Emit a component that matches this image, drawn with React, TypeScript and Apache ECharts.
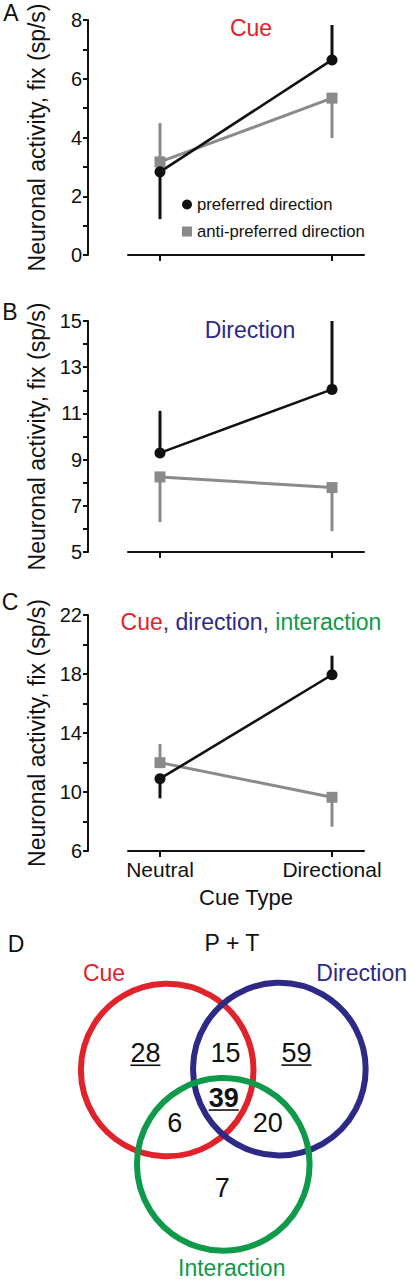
import React, { useEffect, useRef } from "react";
import * as echarts from "echarts";

// ---------- data ----------
const categories = ["Neutral", "Directional"];
const catPos = [0, 1];

const prefA = [2.83, 6.64];
const prefAErr = [1.22, 7.83];
const antiA = [3.17, 5.34];
const antiAErr = [4.49, 3.98];

const prefB = [9.29, 12.04];
const prefBErr = [11.11, 15.0];
const antiB = [8.25, 7.79];
const antiBErr = [6.3, 5.9];

const prefC = [10.9, 17.95];
const prefCErr = [9.57, 19.24];
const antiC = [11.99, 9.64];
const antiCErr = [13.25, 7.65];

const yLabelsA = [0, 2, 4, 6, 8];
const yLabelsB = [5, 7, 9, 11, 13, 15];
const yLabelsC = [6, 10, 14, 18, 22];

const vennSets = ["Cue", "Direction", "Interaction"];
const vennCounts = [28, 15, 59, 39, 6, 20, 7];
const vennUnderlined = [true, false, true, true, false, false, false];
const vennBold = [false, false, false, true, false, false, false];

// ---------- layout (venn units) ----------
const vennCenterX = [0, 1.26, 0.63];
const vennCenterY = [0, 0.01, -1.06];
const vennRadius = 0.97;
const vennLabelX = [-0.71, 2.185, 0.725];
const vennLabelY = [1.09, 1.09, -2.225];
const countX = [-0.245, 0.654, 1.452, 0.635, 0.084, 1.129, 0.62];
const countY = [0.188, 0.19, 0.19, -0.315, -0.596, -0.596, -1.326];

const FONT = '"Liberation Sans", Arial, Helvetica, sans-serif';
const BLACK = "#111111";
const GRAY = "#8a8a8a";
const RED = "#e0222a";
const BLUE = "#2c2a86";
const GREEN = "#0e9a48";
const vennColors = [RED, BLUE, GREEN];

const PREF = "preferred direction";
const ANTI = "anti-preferred direction";

export default function App() {
  const ref = useRef<HTMLDivElement>(null);

  useEffect(() => {
    if (!ref.current) return;
    const chart = echarts.init(ref.current, undefined, { renderer: "svg" });

    const panels = [
      { top: 20, height: 235, min: 0, max: 8, interval: 1, labels: yLabelsA, pref: prefA, prefErr: prefAErr, anti: antiA, antiErr: antiAErr, showX: false },
      { top: 321, height: 231, min: 5, max: 15, interval: 1, labels: yLabelsB, pref: prefB, prefErr: prefBErr, anti: antiB, antiErr: antiBErr, showX: false },
      { top: 615, height: 236, min: 6, max: 22, interval: 2, labels: yLabelsC, pref: prefC, prefErr: prefCErr, anti: antiC, antiErr: antiCErr, showX: true },
    ];

    const grids: any[] = panels.map((p) => ({ left: 128, right: 43, top: p.top, height: p.height }));
    grids.push({ left: 7, top: 892, width: 391.6, height: 382.7 });

    const xAxes: any[] = panels.map((p, i) => ({
      gridIndex: i,
      type: "value",
      min: -0.186,
      max: 1.186,
      axisLine: { show: true, onZero: false, lineStyle: { color: BLACK, width: 2 } },
      axisTick: { show: true, customValues: catPos, length: 6, lineStyle: { color: BLACK, width: 2 } },
      axisLabel: {
        show: p.showX,
        customValues: catPos,
        formatter: (v: number) => categories[Math.round(v)] ?? "",
        fontSize: 21,
        color: BLACK,
        fontFamily: FONT,
        margin: 8,
      },
      splitLine: { show: false },
      name: p.showX ? "Cue Type" : "",
      nameLocation: "middle",
      nameGap: 35,
      nameTextStyle: { fontSize: 22, color: BLACK, fontFamily: FONT },
    }));
    xAxes.push({ gridIndex: 3, type: "value", min: -1.8, max: 2.6, show: false });

    const yAxes: any[] = panels.map((p, i) => ({
      gridIndex: i,
      type: "value",
      position: "left",
      min: p.min,
      max: p.max,
      interval: p.interval,
      offset: 40,
      axisLine: { show: true, onZero: false, lineStyle: { color: BLACK, width: 2 } },
      axisTick: { show: true, length: 5, lineStyle: { color: BLACK, width: 2 } },
      axisLabel: {
        formatter: (v: number) => (p.labels.includes(v) ? String(v) : ""),
        fontSize: 20,
        color: BLACK,
        fontFamily: FONT,
        margin: 6,
      },
      splitLine: { show: false },
      name: "Neuronal activity, fix (sp/s)",
      nameLocation: "middle",
      nameGap: 40,
      nameTextStyle: { fontSize: 23, color: BLACK, fontFamily: FONT },
    }));
    yAxes.push({ gridIndex: 3, type: "value", min: -2.3, max: 2.0, show: false });

    const errSeries = (i: number, means: number[], ends: number[], color: string) => ({
      type: "custom",
      xAxisIndex: i,
      yAxisIndex: i,
      z: 1,
      silent: true,
      data: catPos.map((x, k) => [x, means[k], ends[k]]),
      renderItem: (_params: any, api: any) => {
        const p0 = api.coord([api.value(0), api.value(1)]);
        const p1 = api.coord([api.value(0), api.value(2)]);
        return {
          type: "line",
          shape: { x1: p0[0], y1: p0[1], x2: p1[0], y2: p1[1] },
          style: { stroke: color, lineWidth: 3 },
        };
      },
    });

    const series: any[] = [];
    panels.forEach((p, i) => {
      series.push(errSeries(i, p.anti, p.antiErr, GRAY));
      series.push(errSeries(i, p.pref, p.prefErr, BLACK));
      series.push({
        name: ANTI,
        type: "line",
        xAxisIndex: i,
        yAxisIndex: i,
        z: 2,
        data: catPos.map((x, k) => [x, p.anti[k]]),
        symbol: "rect",
        symbolSize: 11,
        lineStyle: { color: GRAY, width: 3 },
        itemStyle: { color: GRAY },
      });
      series.push({
        name: PREF,
        type: "line",
        xAxisIndex: i,
        yAxisIndex: i,
        z: 3,
        data: catPos.map((x, k) => [x, p.pref[k]]),
        symbol: "circle",
        symbolSize: 11,
        lineStyle: { color: BLACK, width: 2.6 },
        itemStyle: { color: BLACK },
      });
    });

    // Venn circles
    series.push({
      type: "custom",
      xAxisIndex: 3,
      yAxisIndex: 3,
      silent: true,
      data: vennSets.map((s, k) => [vennCenterX[k], vennCenterY[k], s]),
      renderItem: (params: any, api: any) => {
        const c = api.coord([api.value(0), api.value(1)]);
        const r = api.size([vennRadius, 0])[0];
        return {
          type: "circle",
          shape: { cx: c[0], cy: c[1], r },
          style: { fill: "none", stroke: vennColors[params.dataIndex], lineWidth: 6 },
        };
      },
    });
    // Venn set labels
    series.push({
      type: "custom",
      xAxisIndex: 3,
      yAxisIndex: 3,
      silent: true,
      data: vennSets.map((s, k) => [vennLabelX[k], vennLabelY[k], s]),
      renderItem: (params: any, api: any) => {
        const c = api.coord([api.value(0), api.value(1)]);
        return {
          type: "text",
          x: c[0],
          y: c[1],
          style: {
            text: vennSets[params.dataIndex],
            fill: vennColors[params.dataIndex],
            fontSize: 23,
            fontFamily: FONT,
            align: "center",
            verticalAlign: "middle",
          },
        };
      },
    });
    // Venn counts
    series.push({
      type: "custom",
      xAxisIndex: 3,
      yAxisIndex: 3,
      silent: true,
      z: 4,
      data: vennCounts.map((n, k) => [countX[k], countY[k], n]),
      renderItem: (params: any, api: any) => {
        const k = params.dataIndex;
        const c = api.coord([api.value(0), api.value(1)]);
        const txt = String(vennCounts[k]);
        const w = txt.length * 0.556 * 27;
        const children: any[] = [
          {
            type: "text",
            x: c[0],
            y: c[1],
            style: {
              text: txt,
              fill: BLACK,
              fontSize: 27,
              fontWeight: vennBold[k] ? "bold" : "normal",
              fontFamily: FONT,
              align: "center",
              verticalAlign: "middle",
            },
          },
        ];
        if (vennUnderlined[k]) {
          children.push({
            type: "line",
            shape: { x1: c[0] - w / 2, y1: c[1] + 12, x2: c[0] + w / 2, y2: c[1] + 12 },
            style: { stroke: BLACK, lineWidth: 1.6 },
          });
        }
        return { type: "group", children };
      },
    });

    const txt = (text: string, x: number, y: number, fill: string, size: number, extra: any = {}) => ({
      type: "text",
      x,
      y,
      style: { text, fill, fontSize: size, fontFamily: FONT, align: "center", verticalAlign: "middle", ...extra },
    });

    chart.setOption({
      animation: false,
      backgroundColor: "#ffffff",
      grid: grids,
      xAxis: xAxes,
      yAxis: yAxes,
      legend: {
        orient: "vertical",
        left: 177,
        top: 191,
        itemWidth: 10,
        itemHeight: 10,
        itemGap: 10,
        itemStyle: { borderWidth: 0 },
        textStyle: { fontSize: 16.7, color: BLACK, fontFamily: FONT },
        selectedMode: false,
        data: [
          { name: PREF, icon: "circle" },
          { name: ANTI, icon: "rect" },
        ],
      },
      series,
      graphic: [
        txt("A", 11, 13, BLACK, 23),
        txt("B", 10, 312, BLACK, 23),
        txt("C", 10, 602, BLACK, 23),
        txt("D", 16, 944, BLACK, 23),
        txt("Cue", 251, 28, RED, 23),
        txt("Direction", 250, 330, BLUE, 23),
        {
          type: "text",
          x: 251,
          y: 622,
          style: {
            text: "{r|Cue}, {b|direction}, {g|interaction}",
            fill: BLUE,
            fontSize: 23,
            fontFamily: FONT,
            align: "center",
            verticalAlign: "middle",
            rich: {
              r: { fill: RED, fontSize: 23, fontFamily: FONT },
              b: { fill: BLUE, fontSize: 23, fontFamily: FONT },
              g: { fill: GREEN, fontSize: 23, fontFamily: FONT },
            },
          },
        },
        txt("P + T", 232, 943, BLACK, 23),
      ],
    });

    return () => chart.dispose();
  }, []);

  return (
    <div
      ref={ref}
      style={{ position: "absolute", left: 0, top: 0, width: 407, height: 1280, background: "#fff" }}
    />
  );
}
